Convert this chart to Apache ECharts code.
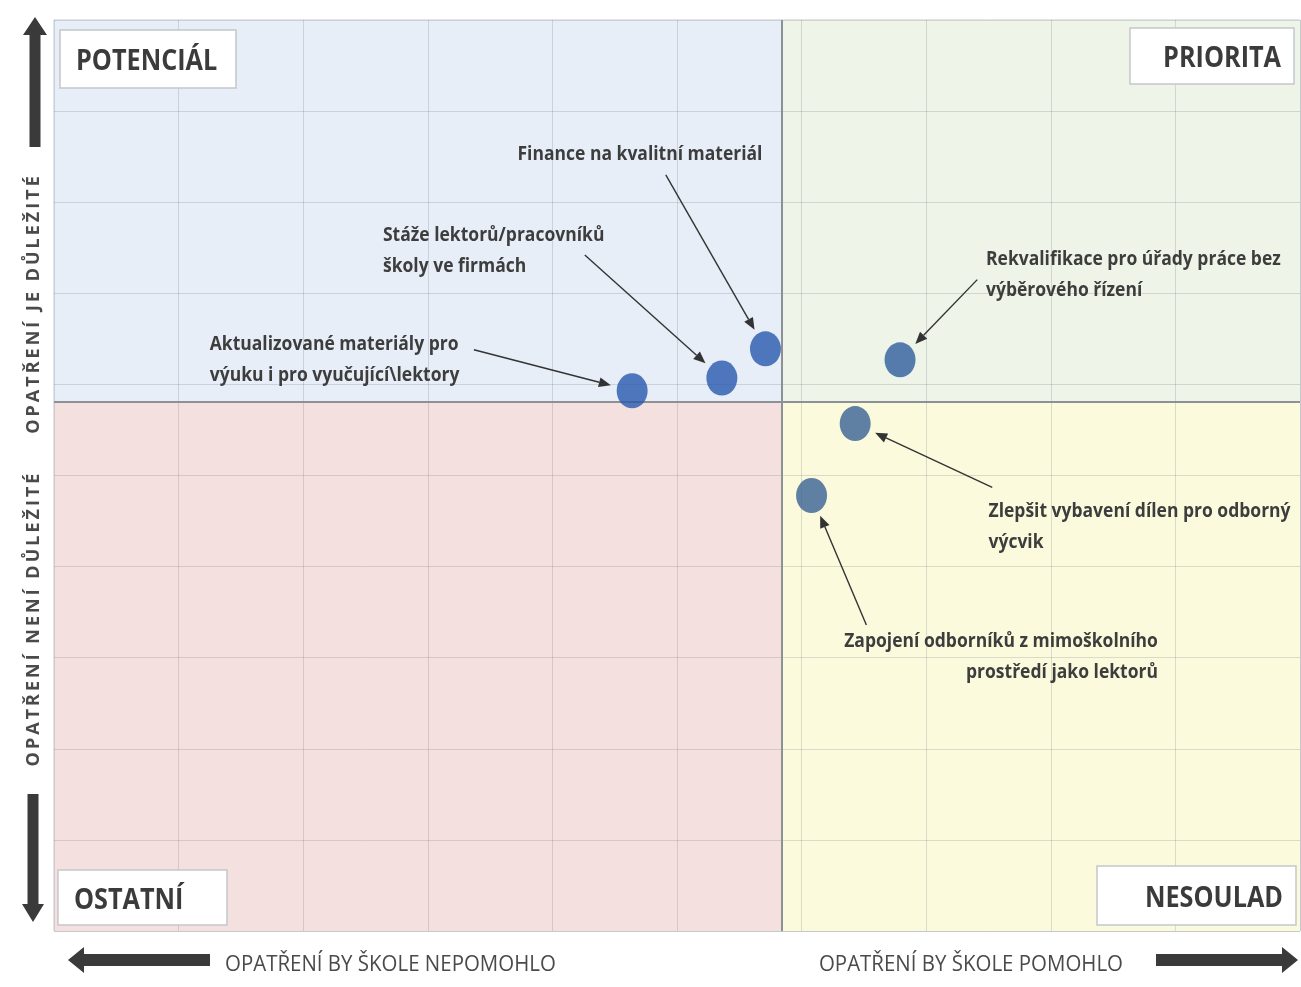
<!DOCTYPE html>
<html>
<head>
<meta charset="utf-8">
<script src="https://cdn.jsdelivr.net/npm/echarts@6/dist/echarts.min.js"></script>
<style>
  html, body { margin: 0; padding: 0; background: #ffffff; }
  #chart { width: 1301px; height: 987px; }
</style>
</head>
<body>
<div id="chart"></div>
<script>
// measures (each on a 0-10 scale)
const names = [
  'Aktualizované materiály pro\nvýuku i pro vyučující\\lektory',
  'Stáže lektorů/pracovníků\nškoly ve firmách',
  'Finance na kvalitní materiál',
  'Rekvalifikace pro úřady práce bez\nvýběrového řízení',
  'Zlepšit vybavení dílen pro odborný\nvýcvik',
  'Zapojení odborníků z mimoškolního\nprostředí jako lektorů'
]
const helpX = [4.64, 5.36, 5.71, 6.79, 6.43, 6.08]
const importanceY = [5.93, 6.07, 6.39, 6.27, 5.57, 4.78]
const pointColors = ['#2858ad', '#2858ad', '#2858ad', '#2e5b9d', '#386294', '#386294']
// where the axes cross
const crossX = 5.84
const crossY = 5.81

// callout layout (data units): text anchor, text align, arrow tail
const calloutText = [[1.25, 6.48], [2.64, 7.67], [3.72, 8.56], [7.48, 7.41], [7.50, 4.65], [8.86, 3.22]]
const calloutAlign = ['left', 'left', 'left', 'left', 'left', 'right']
const arrowTail = [[3.37, 6.38], [4.26, 7.42], [4.91, 8.30], [7.41, 7.15], [7.53, 4.87], [6.52, 3.36]]

const chart = echarts.init(document.getElementById('chart'))

const labelFont = '"Open Sans", sans-serif'

const option = {
  backgroundColor: '#ffffff',
  animation: false,
  grid: {
    left: 54,
    top: 20,
    right: 1,
    bottom: 56,
    show: true,
    borderColor: '#c2c7cc',
    borderWidth: 1
  },
  xAxis: {
    type: 'value',
    min: 0,
    max: 10,
    interval: 1,
    z: 3,
    axisLine: { show: false },
    axisTick: { show: false },
    axisLabel: { show: false },
    splitLine: { show: true, lineStyle: { color: 'rgba(110,120,130,0.24)', width: 1 } }
  },
  yAxis: {
    type: 'value',
    min: 0,
    max: 10,
    interval: 1,
    z: 3,
    axisLine: { show: false },
    axisTick: { show: false },
    axisLabel: { show: false },
    splitLine: { show: true, lineStyle: { color: 'rgba(110,120,130,0.24)', width: 1 } }
  },
  series: [
    {
      // quadrant backgrounds
      type: 'scatter',
      data: [],
      z: 0,
      silent: true,
      markArea: {
        silent: true,
        z: 0,
        data: [
          [{ coord: [0, crossY], itemStyle: { color: '#e7eef7' } }, { coord: [crossX, 10] }],
          [{ coord: [crossX, crossY], itemStyle: { color: '#eef4e7' } }, { coord: [10, 10] }],
          [{ coord: [0, 0], itemStyle: { color: '#f5e0e0' } }, { coord: [crossX, crossY] }],
          [{ coord: [crossX, 0], itemStyle: { color: '#fbfadd' } }, { coord: [10, crossY] }]
        ]
      }
    },
    {
      // the crossing axes
      type: 'scatter',
      data: [],
      z: 4,
      silent: true,
      markLine: {
        silent: true,
        symbol: ['none', 'none'],
        label: { show: false },
        lineStyle: { color: '#8c9196', width: 2, type: 'solid' },
        data: [{ xAxis: crossX }, { yAxis: crossY }]
      }
    },
    {
      name: 'Opatření',
      type: 'scatter',
      z: 6,
      symbol: 'circle',
      symbolSize: [31, 35],
      data: helpX.map((x, i) => ({
        value: [x, importanceY[i]],
        name: names[i],
        itemStyle: { color: pointColors[i] }
      }))
    }
  ]
}
chart.setOption(option)

// callouts, quadrant boxes and direction arrows
function arrow (from, to, color, width, headLen, headW) {
  const dx = to[0] - from[0]
  const dy = to[1] - from[1]
  const len = Math.sqrt(dx * dx + dy * dy)
  const ux = dx / len
  const uy = dy / len
  const bx = to[0] - ux * headLen
  const by = to[1] - uy * headLen
  return [
    {
      type: 'line',
      shape: { x1: from[0], y1: from[1], x2: bx, y2: by },
      style: { stroke: color, lineWidth: width },
      z: 10
    },
    {
      type: 'polygon',
      shape: { points: [to, [bx - uy * headW, by + ux * headW], [bx + uy * headW, by - ux * headW]] },
      style: { fill: color },
      z: 10
    }
  ]
}

function blockArrow (tip, dir, shaftLen, shaftW, headLen, headW) {
  const [ux, uy] = dir
  const px = -uy
  const py = ux
  const base = [tip[0] - ux * headLen, tip[1] - uy * headLen]
  const end = [base[0] - ux * shaftLen, base[1] - uy * shaftLen]
  const pts = [
    tip,
    [base[0] + px * headW, base[1] + py * headW],
    [base[0] + px * shaftW / 2, base[1] + py * shaftW / 2],
    [end[0] + px * shaftW / 2, end[1] + py * shaftW / 2],
    [end[0] - px * shaftW / 2, end[1] - py * shaftW / 2],
    [base[0] - px * shaftW / 2, base[1] - py * shaftW / 2],
    [base[0] - px * headW, base[1] - py * headW]
  ]
  return { type: 'polygon', shape: { points: pts }, style: { fill: '#3a3a3a' }, z: 10 }
}

const graphics = []

function quadBox (x, y, w, h, text, align) {
  graphics.push({
    type: 'rect',
    z: 20,
    shape: { x: x, y: y, width: w, height: h },
    style: { fill: '#ffffff', stroke: '#c4c7cb', lineWidth: 1.5 }
  })
  graphics.push({
    type: 'text',
    z: 21,
    x: align === 'left' ? x + 16 : x + w - 13,
    y: y + h / 2 + 3,
    scaleX: 0.87,
    style: {
      text: text,
      font: 'bold 29px ' + labelFont,
      fill: '#3b3b3b',
      textAlign: align,
      textVerticalAlign: 'middle'
    }
  })
}

helpX.forEach((x, i) => {
  const p = chart.convertToPixel({ gridIndex: 0 }, [x, importanceY[i]])
  const t = chart.convertToPixel({ gridIndex: 0 }, arrowTail[i])
  const dx = t[0] - p[0]
  const dy = t[1] - p[1]
  const len = Math.sqrt(dx * dx + dy * dy)
  const head = [p[0] + dx / len * 22, p[1] + dy / len * 22]
  arrow(t, head, '#333333', 1.4, 12, 5).forEach(g => graphics.push(g))
  const tp = chart.convertToPixel({ gridIndex: 0 }, calloutText[i])
  graphics.push({
    type: 'text',
    x: tp[0],
    y: tp[1] - 12,
    z: 15,
    scaleX: 0.875,
    style: {
      text: names[i],
      font: 'bold 20px ' + labelFont,
      fill: '#3d3d3d',
      textAlign: calloutAlign[i],
      textVerticalAlign: 'top',
      lineHeight: 31
    }
  })
})

quadBox(60, 30, 176, 58, 'POTENCIÁL', 'left')
quadBox(1130, 28, 164, 56, 'PRIORITA', 'right')
quadBox(58, 870, 169, 55, 'OSTATNÍ', 'left')
quadBox(1097, 866, 199, 59, 'NESOULAD', 'right')

// direction arrows
graphics.push(blockArrow([35, 17], [0, -1], 112, 11, 18, 12))
graphics.push(blockArrow([33, 922], [0, 1], 110, 11, 18, 11))
graphics.push(blockArrow([68, 960], [-1, 0], 126, 12, 16, 13))
graphics.push(blockArrow([1298, 960], [1, 0], 126, 12, 16, 13))

// axis direction captions
const spaced = s => s.split('').join('\u2009')
graphics.push({
  type: 'text', x: 225, y: 965, z: 15, scaleX: 0.93,
  style: { text: 'OPATŘENÍ BY ŠKOLE NEPOMOHLO', font: '22px ' + labelFont, fill: '#4a4a4a', textAlign: 'left', textVerticalAlign: 'middle' }
})
graphics.push({
  type: 'text', x: 1123, y: 965, z: 15, scaleX: 0.93,
  style: { text: 'OPATŘENÍ BY ŠKOLE POMOHLO', font: '22px ' + labelFont, fill: '#4a4a4a', textAlign: 'right', textVerticalAlign: 'middle' }
})
graphics.push({
  type: 'text', x: 34, y: 305, rotation: Math.PI / 2, z: 15, scaleX: 1.06,
  style: { text: spaced('OPATŘENÍ JE DŮLEŽITÉ'), font: 'bold 17px ' + labelFont, fill: '#4a4a4a', textAlign: 'center', textVerticalAlign: 'middle' }
})
graphics.push({
  type: 'text', x: 34, y: 620, rotation: Math.PI / 2, z: 15, scaleX: 1.06,
  style: { text: spaced('OPATŘENÍ NENÍ DŮLEŽITÉ'), font: 'bold 17px ' + labelFont, fill: '#4a4a4a', textAlign: 'center', textVerticalAlign: 'middle' }
})

chart.setOption({ graphic: graphics })
</script>
</body>
</html>
